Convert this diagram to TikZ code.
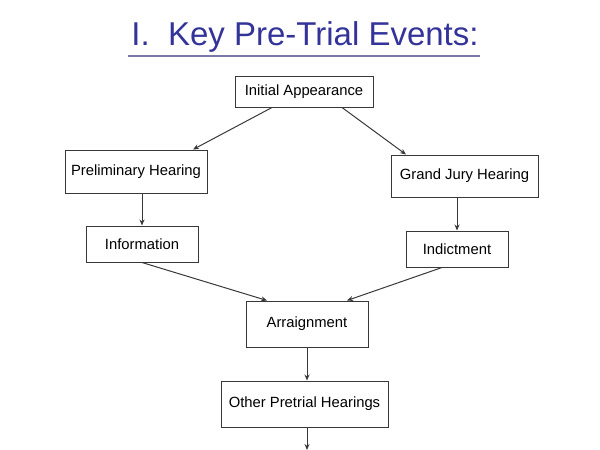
\documentclass[tikz,border=0pt]{standalone}
\usepackage{fontspec}
\setmainfont{Liberation Sans}
\usetikzlibrary{arrows.meta}
\definecolor{titleblue}{HTML}{333399}
\definecolor{rulecol}{HTML}{7A7AA6}
\definecolor{linecol}{HTML}{383838}
\tikzset{
  box/.style={draw=linecol, line width=1pt, fill=white, rectangle, inner sep=0pt,
    font=\fontsize{14.8}{16}\selectfont, text=black},
  conn/.style={draw=linecol, line width=1pt, -{Stealth[length=6pt,width=5pt]}},
}
\begin{document}
\begin{tikzpicture}[x=1pt,y=-1pt]
\useasboundingbox (0,0) rectangle (600,450);
\node[anchor=base, text=titleblue, font=\fontsize{33}{36}\selectfont] (title) at (305,45) {I.~~Key Pre-Trial Events:};
\coordinate (ulL) at (128,56);
\coordinate (ulR) at (480,56);
\draw[rulecol, line width=1.3pt] (ulL) -- (ulR);

\node[box, minimum width=138pt, minimum height=31pt] (IA) at (304,91.5) {Initial Appearance};
\node[box, minimum width=142pt, minimum height=43pt] (PH) at (136,171.5) {Preliminary Hearing};
\node[box, minimum width=147pt, minimum height=42pt] (GJ) at (464.5,176) {Grand Jury Hearing};
\node[box, minimum width=112pt, minimum height=36pt] (INF) at (142,244) {Information};
\node[box, minimum width=102pt, minimum height=36pt] (IND) at (457,249) {Indictment};
\node[box, minimum width=122pt, minimum height=46pt] (ARR) at (307,324) {Arraignment};
\node[box, minimum width=167pt, minimum height=46pt] (OPH) at (304.5,404) {Other Pretrial Hearings};
\coordinate (end) at (307,450);

\draw[conn] ([xshift=-32pt]IA.south) -- ([xshift=57pt]PH.north);
\draw[conn] ([xshift=38pt]IA.south) -- ([xshift=-58.5pt]GJ.north);
\draw[conn] ([xshift=6pt]PH.south) -- ([xshift=6pt]PH.south |- INF.north);
\draw[conn] ([xshift=-7.5pt]GJ.south) -- ([xshift=-7.5pt]GJ.south |- IND.north);
\draw[conn] (INF.south) -- ([xshift=-40pt]ARR.north);
\draw[conn] ([xshift=-15pt]IND.south) -- ([xshift=40pt]ARR.north);
\draw[conn] (ARR.south) -- (ARR.south |- OPH.north);
\draw[conn] (ARR.south |- OPH.south) -- (end);
\end{tikzpicture}
\end{document}
